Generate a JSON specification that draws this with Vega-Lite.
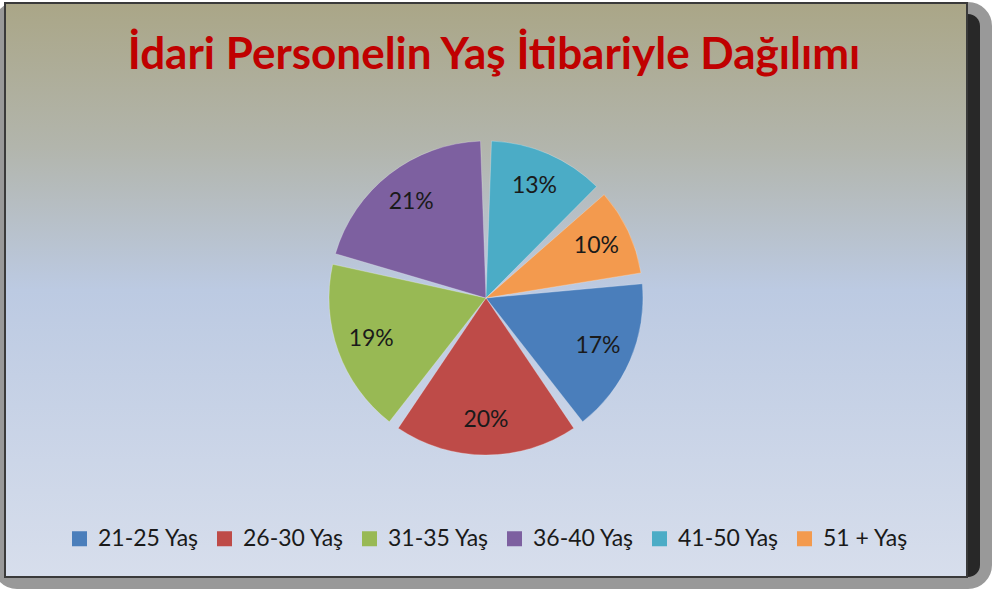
{
  "$schema": "https://vega.github.io/schema/vega-lite/v6.json",
  "width": 962,
  "height": 574,
  "autosize": {"type": "none"},
  "padding": {"left": 5, "top": 3, "right": 30, "bottom": 31},
  "background": "#ffffff",
  "title": {
    "text": "İdari Personelin Yaş İtibariyle Dağılımı",
    "font": "Lato",
    "fontSize": 44,
    "fontWeight": "bold",
    "color": "#C00000",
    "anchor": "middle",
    "orient": "top",
    "baseline": "alphabetic",
    "offset": -65,
    "dy": 46,
    "dx": 8
  },
  "layer": [
    {
      "data": {"values": [{"arka": "golge"}]},
      "mark": {
        "type": "rect",
        "xOffset": 13,
        "yOffset": 11,
        "fill": "#1c1c1c",
        "stroke": "#333333",
        "strokeWidth": 24,
        "strokeOpacity": 0.5,
        "cornerRadius": 12
      }
    },
    {
      "data": {"values": [{"arka": "plan"}]},
      "mark": {
        "type": "rect",
        "stroke": "#3a3a3a",
        "strokeWidth": 2,
        "fill": {
          "gradient": "linear",
          "x1": 0, "y1": 0, "x2": 0, "y2": 1,
          "stops": [
            {"offset": 0, "color": "#AAA687"},
            {"offset": 0.25, "color": "#B2B5AC"},
            {"offset": 0.5, "color": "#BCCAE2"},
            {"offset": 1, "color": "#D7DEEC"}
          ]
        }
      }
    },
    {
      "data": {
        "values": [
          {"grup": "21-25 Yaş", "oran": 0.17},
          {"grup": "26-30 Yaş", "oran": 0.20},
          {"grup": "31-35 Yaş", "oran": 0.19},
          {"grup": "36-40 Yaş", "oran": 0.21},
          {"grup": "41-50 Yaş", "oran": 0.13},
          {"grup": "51 + Yaş", "oran": 0.10}
        ]
      },
      "encoding": {
        "theta": {"field": "oran", "type": "quantitative", "stack": true, "scale": {"range": [1.44513, 7.72832]}},
        "order": {"field": "grup", "type": "nominal", "sort": "ascending"}
      },
      "layer": [
        {
          "mark": {"type": "arc", "radius": 157, "padAngle": 0.07, "yOffset": 8, "stroke": "#ffffff", "strokeOpacity": 0.25, "strokeWidth": 1},
          "encoding": {
            "color": {
              "field": "grup",
              "type": "nominal",
              "scale": {
                "domain": ["21-25 Yaş", "26-30 Yaş", "31-35 Yaş", "36-40 Yaş", "41-50 Yaş", "51 + Yaş"],
                "range": ["#4A7EBB", "#BE4B48", "#98B954", "#7D60A0", "#4BACC6", "#F39A4E"]
              },
              "legend": {
                "title": null,
                "orient": "none",
                "direction": "horizontal",
                "columns": 6,
                "legendX": 63,
                "legendY": 524,
                "symbolType": "square",
                "symbolSize": 225,
                "symbolStrokeWidth": 0,
                "symbolOpacity": 1,
                "labelFont": "Lato",
                "labelFontSize": 23,
                "labelColor": "#1a1a1a",
                "labelOffset": 7,
                "columnPadding": 14
              }
            }
          }
        },
        {
          "mark": {"type": "text", "radius": 122, "yOffset": 8, "font": "Lato", "fontSize": 23, "color": "#1a1a1a"},
          "encoding": {
            "text": {"field": "oran", "type": "quantitative", "format": ".0%"},
            "detail": {"field": "grup", "type": "nominal"}
          }
        }
      ]
    }
  ]
}
